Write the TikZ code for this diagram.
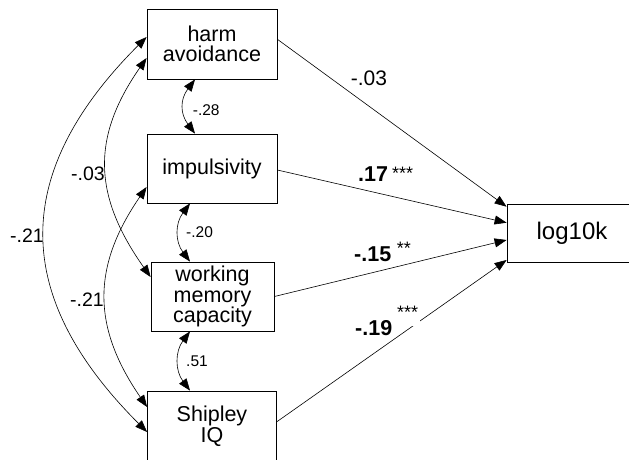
\documentclass[tikz,border=0pt]{standalone}
\usepackage{fontspec}
\setmainfont{Liberation Sans}
\usetikzlibrary{arrows.meta}

\begin{document}
\begin{tikzpicture}[x=1pt,y=-1pt,
  var/.style={draw, line width=0.8pt, inner sep=0pt, align=center,
    font=\fontsize{21.5}{20.5}\selectfont},
  tip/.tip={Triangle[length=12pt,width=9pt]},
  link/.style={line width=0.6pt, -tip},
  cov/.style={line width=0.6pt, tip-tip},
  coef/.style={anchor=base west, inner sep=0pt,
    font=\fontsize{21.5}{21.5}\selectfont\bfseries},
  plain/.style={anchor=base west, inner sep=0pt,
    font=\fontsize{21}{21}\selectfont},
  sidecoef/.style={anchor=base west, inner sep=0pt,
    font=\fontsize{19.5}{19.5}\selectfont},
  smallcoef/.style={anchor=base west, inner sep=0pt,
    font=\fontsize{15.5}{15.5}\selectfont},
  stars/.style={anchor=base west, inner sep=0pt,
    font=\fontsize{18}{18}\selectfont},
]
\clip (0,0) rectangle (629,459);

% observed variables
\node[var, minimum width=130pt, minimum height=70pt] (harm) at (212,44) {harm\\avoidance};
\node[var, minimum width=130pt, minimum height=69pt] (imp) at (212,168.5) {impulsivity};
\node[var, minimum width=123pt, minimum height=69pt] (wmc) at (212.5,296.5) {working\\memory\\capacity};
\node[var, minimum width=129pt, minimum height=70pt] (iq) at (212,426) {Shipley\\IQ};
\node[var, minimum width=130pt, minimum height=58pt, font=\fontsize{24}{24}\selectfont] (k) at (572,233) {log10k};

% regression paths
\draw[link] ([yshift=4.7pt]harm.east) -- ([yshift=26.3pt]k.west);
\draw[link] ([yshift=-1.5pt]imp.east) -- ([yshift=10.3pt]k.west);
\draw[link] (wmc.east) -- ([yshift=-7pt]k.west);
\draw[link] ([yshift=4.3pt]iq.east) -- ([yshift=-27pt]k.west);

% long covariances on the left
\draw[cov] ([yshift=7pt]harm.west) .. controls +(-136,136) and +(-136,-136) .. ([yshift=-6pt]iq.west);
\draw[cov] ([yshift=-14pt]harm.west) .. controls +(-55,79) and +(-58,-82) .. ([yshift=19.5pt]wmc.west);
\draw[cov] ([yshift=-18.5pt]imp.west) .. controls +(-55,80) and +(-55,-80) .. ([yshift=19pt]iq.west);

% short covariances between neighbours
\draw[cov] ([xshift=-17pt]harm.south) .. controls +(-15,20) and +(-15,-20) .. ([xshift=-17pt]imp.north);
\draw[cov] ([xshift=-22pt]imp.south) .. controls +(-15,20) and +(-15,-20) .. ([xshift=-22.5pt]wmc.north);
\draw[cov] ([xshift=-22.5pt]wmc.south) .. controls +(-15,20) and +(-15,-20) .. ([xshift=-22pt]iq.north);

% coefficients
\node[smallcoef] (r1) at (192.7,115) {-.28};
\node[smallcoef] (r2) at (186,237.3) {-.20};
\node[smallcoef] (r3) at (186,366.7) {.51};
\node[sidecoef] (r4) at (10,242.7) {-.21};
\node[sidecoef] (r5) at (71,180) {-.03};
\node[sidecoef] (r6) at (70,306.7) {-.21};

\node[plain] (b1) at (350.7,85) {-.03};
\node[coef] (b2) at (358,181.7) {.17};
\node[stars] (s2) at (392,179) {***};
\node[coef] (b3) at (354,261.7) {-.15};
\node[stars] (s3) at (396.7,254.6) {**};
\node[coef] (b4) at (355,335) {-.19};
\node[stars, fill=white, inner sep=2pt, text depth=6pt] (s4) at (395,318) {***};
\end{tikzpicture}
\end{document}
